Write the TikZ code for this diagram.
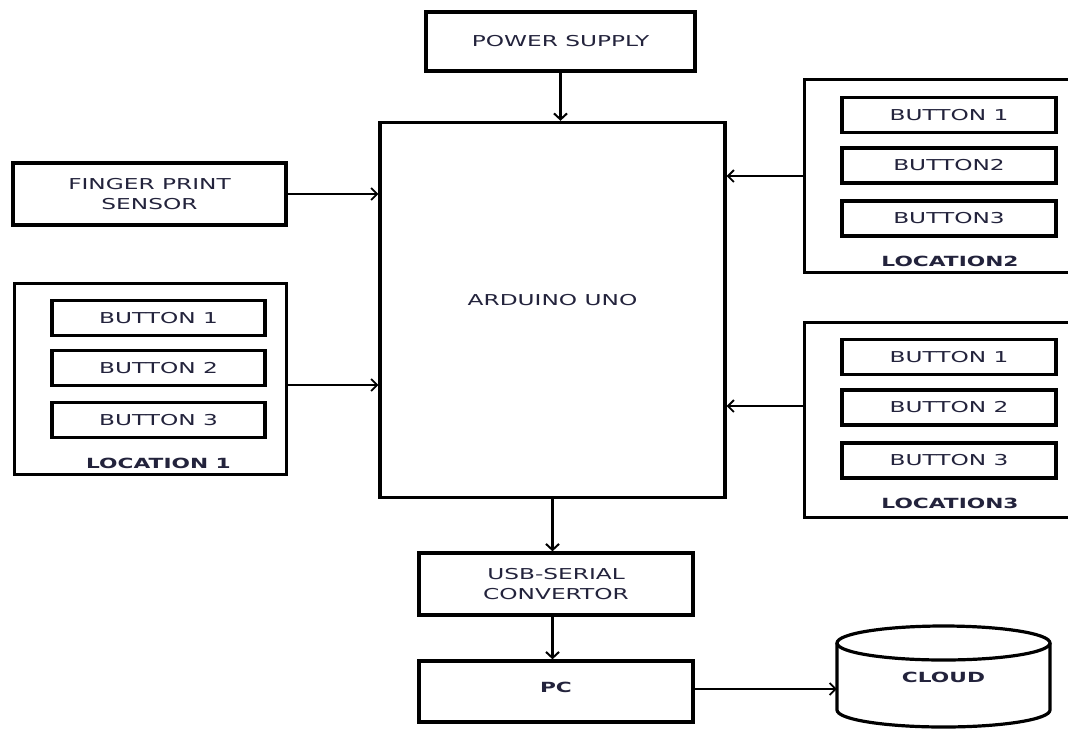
\documentclass[tikz,border=0pt]{standalone}
\usepackage{fontspec}
\setmainfont{DejaVu Sans}[FakeStretch=1.55]
\usetikzlibrary{arrows.meta}
\definecolor{txt}{RGB}{35,35,60}
\tikzset{
  box/.style={draw=black, line width=3.4pt, fill=white, inner sep=0pt, text=txt, font=\fontsize{15}{20}\selectfont, align=center},
  btn/.style={box, line width=3.6pt, minimum width=213pt, minimum height=35pt},
  outer/.style={draw=black, line width=3pt, inner sep=0pt},
  lbl/.style={inner sep=0pt, text=txt, font=\fontsize{14}{16}\selectfont\bfseries},
  conn/.style={line width=2.2pt, -{Straight Barb[length=6pt,width=13pt,line width=2pt]}},
  thinconn/.style={line width=1.8pt, -{Straight Barb[length=6pt,width=12pt,line width=1.8pt]}},
}
\begin{document}
\begin{tikzpicture}[x=1pt,y=-1pt]
\useasboundingbox (0,0) rectangle (1068,729);
\clip (0,0) rectangle (1068,729);
\fill[white] (0,0) rectangle (1068,729);

% main blocks
\node[box, minimum width=269pt, minimum height=59pt] (power) at (560.5,41.5) {POWER SUPPLY};
\node[box, minimum width=345pt, minimum height=375pt, label={[text=txt,font=\fontsize{15}{16}\selectfont,yshift=10pt]center:ARDUINO UNO}] (ard) at (552.5,310) {};
\node[box, minimum width=273pt, minimum height=62pt] (finger) at (149.5,194) {FINGER PRINT\\SENSOR};
\node[box, minimum width=274pt, minimum height=62pt] (usb) at (556,584) {USB-SERIAL\\CONVERTOR};
\node[box, minimum width=274pt, minimum height=61pt, label={[text=txt,font=\fontsize{14}{16}\selectfont\bfseries,yshift=4pt]center:PC}] (pc) at (556,691.5) {};

% location 1
\node[outer, minimum width=272pt, minimum height=191pt] (loc1) at (150,378.5) {};
\node[btn] (l1b1) at (158.5,318) {BUTTON 1};
\node[btn] (l1b2) at (158.5,368) {BUTTON 2};
\node[btn] (l1b3) at (158.5,420) {BUTTON 3};
\node[lbl] (l1t) at (158.5,463) {LOCATION 1};

% location 2
\node[outer, minimum width=276pt, minimum height=193pt] (loc2) at (942,175.5) {};
\node[btn, minimum width=214pt] (l2b1) at (949,115) {BUTTON 1};
\node[btn, minimum width=214pt] (l2b2) at (949,165.5) {BUTTON2};
\node[btn, minimum width=214pt] (l2b3) at (949,218.5) {BUTTON3};
\node[lbl] (l2t) at (950,261) {LOCATION2};

% location 3
\node[outer, minimum width=276pt, minimum height=195pt] (loc3) at (942,419.5) {};
\node[btn, minimum width=214pt] (l3b1) at (949,357) {BUTTON 1};
\node[btn, minimum width=214pt] (l3b2) at (949,407.5) {BUTTON 2};
\node[btn, minimum width=214pt] (l3b3) at (949,460.5) {BUTTON 3};
\node[lbl] (l3t) at (950,503) {LOCATION3};

% cloud (cylinder)
\node[inner sep=0pt, minimum width=213pt, minimum height=103pt, text=txt, font=\fontsize{14}{16}\selectfont\bfseries] (cloud) at (943.5,677.5) {CLOUD};
\draw[line width=3.2pt] (943.5,643) ellipse [x radius=106.5pt, y radius=17pt];
\draw[line width=3.2pt] (837,643) -- (837,710)
  arc[start angle=180, end angle=360, x radius=106.5pt, y radius=17pt] -- (1050,643);

% connectors
\coordinate (pwrin) at (power.south |- ard.north);
\draw[conn] (power.south) -- (pwrin);
\draw[thinconn] (finger.east) -- (finger.east -| ard.west);
\draw[thinconn] (loc1.east |- 0,385) -- (ard.west |- 0,385);
\draw[thinconn] (loc2.west |- 0,176) -- (ard.east |- 0,176);
\draw[thinconn] (loc3.west |- 0,406) -- (ard.east |- 0,406);
\draw[conn, line width=3pt] (ard.south) -- (ard.south |- usb.north);
\draw[conn, line width=3pt] (ard.south |- usb.south) -- (ard.south |- pc.north);
\draw[thinconn] (pc.east |- 0,689) -- (cloud.west |- 0,689);
\end{tikzpicture}
\end{document}
